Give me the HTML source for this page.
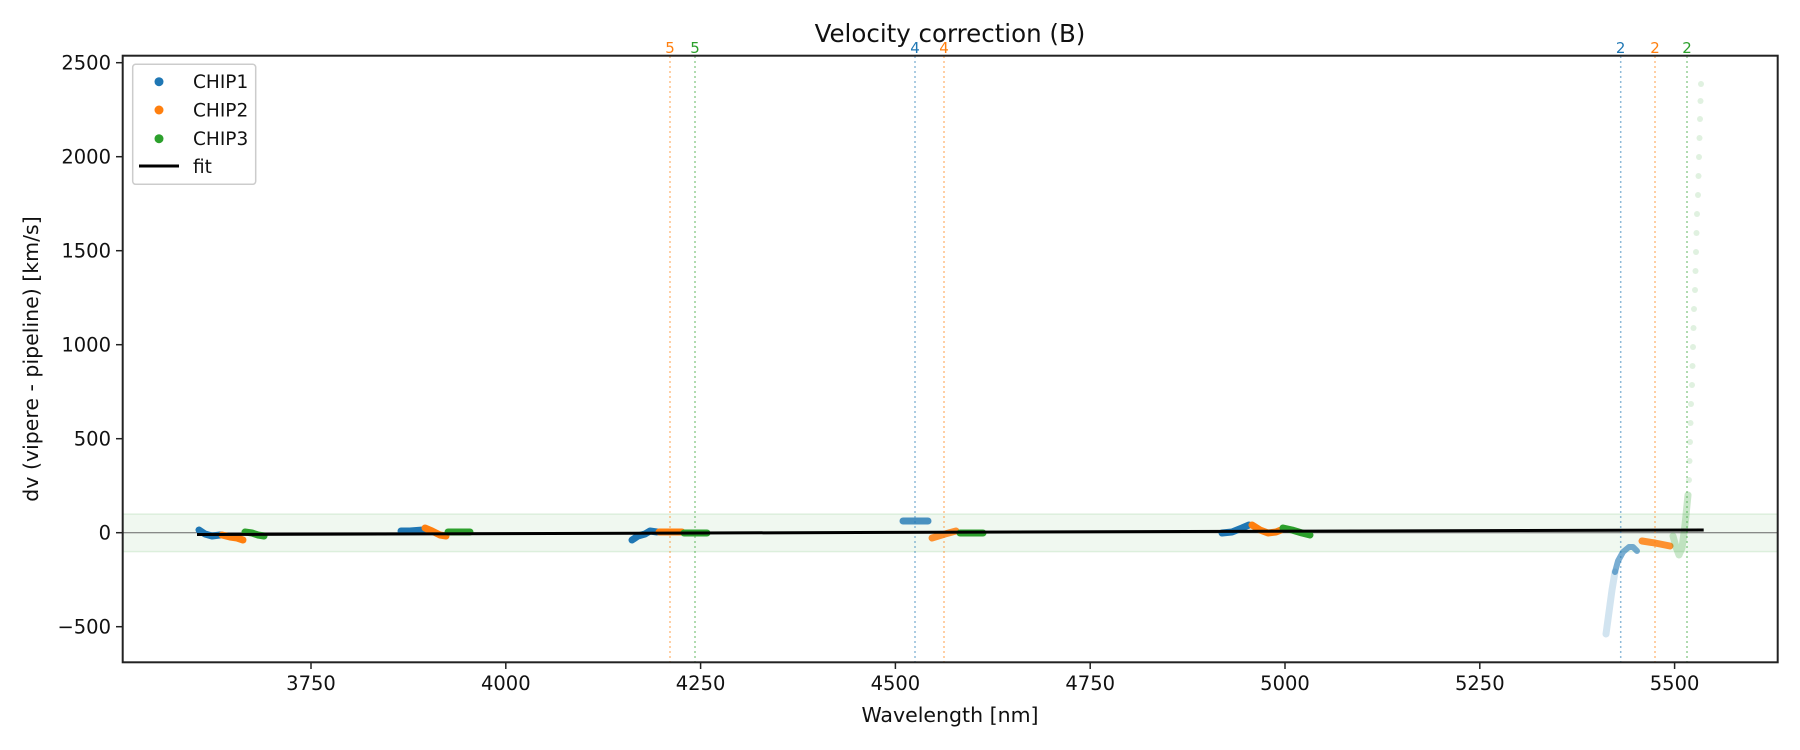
<!DOCTYPE html>
<html><head><meta charset="utf-8"><style>
html,body{margin:0;padding:0;background:#fff;}
svg{display:block;font-family:"DejaVu Sans","Liberation Sans",sans-serif;}
</style></head><body>
<svg width="1800" height="750" viewBox="0 0 1800 750" xmlns="http://www.w3.org/2000/svg">
<rect width="1800" height="750" fill="#fff"/>
<rect x="122.7" y="514" width="1655" height="37.6" fill="#2ca02c" fill-opacity="0.07"/>
<line x1="122.7" y1="514" x2="1777.7" y2="514" stroke="#2ca02c" stroke-opacity="0.12" stroke-width="1.5"/>
<line x1="122.7" y1="551.6" x2="1777.7" y2="551.6" stroke="#2ca02c" stroke-opacity="0.12" stroke-width="1.5"/>
<line x1="122.7" y1="532.7" x2="1777.7" y2="532.7" stroke="#666" stroke-width="1"/>
<g stroke-width="1.5" stroke-dasharray="2,3" stroke-opacity="0.5">
<line x1="670" y1="56" x2="670" y2="662" stroke="#ff7f0e"/>
<line x1="695" y1="56" x2="695" y2="662" stroke="#2ca02c"/>
<line x1="915" y1="56" x2="915" y2="662" stroke="#1f77b4"/>
<line x1="944" y1="56" x2="944" y2="662" stroke="#ff7f0e"/>
<line x1="1620.7" y1="56" x2="1620.7" y2="662" stroke="#1f77b4"/>
<line x1="1655" y1="56" x2="1655" y2="662" stroke="#ff7f0e"/>
<line x1="1687" y1="56" x2="1687" y2="662" stroke="#2ca02c"/>
</g>
<g font-size="15" text-anchor="middle">
<text x="670" y="53" fill="#ff7f0e">5</text>
<text x="695" y="53" fill="#2ca02c">5</text>
<text x="915" y="53" fill="#1f77b4">4</text>
<text x="944" y="53" fill="#ff7f0e">4</text>
<text x="1620.7" y="53" fill="#1f77b4">2</text>
<text x="1655" y="53" fill="#ff7f0e">2</text>
<text x="1687" y="53" fill="#2ca02c">2</text>
</g>
<g fill="none" stroke-linecap="round" stroke-linejoin="round" stroke-width="7">
<polyline stroke="#1f77b4" points="199,530 205,534 212,536 220,535"/>
<polyline stroke="#ff7f0e" points="222,535 230,537 237,538 243,540"/>
<polyline stroke="#2ca02c" points="245,532 252,533 258,535 264,536"/>
<polyline stroke="#1f77b4" points="401,531 410,531 423,530"/>
<polyline stroke="#ff7f0e" points="425,528 432,531 440,535 446,536"/>
<polyline stroke="#2ca02c" points="448,532 470,532"/>
<polyline stroke="#1f77b4" points="632,540 638,536 645,534 650,531 657,532"/>
<polyline stroke="#ff7f0e" points="659,532 682,532"/>
<polyline stroke="#2ca02c" points="684,533 707,533"/>
<polyline stroke="#1f77b4" stroke-opacity="0.8" points="903,521 928,521"/>
<polyline stroke="#ff7f0e" stroke-opacity="0.85" points="932,538 945,534 956,531"/>
<polyline stroke="#2ca02c" points="960,533 983,533"/>
<polyline stroke="#1f77b4" points="1222,533 1232,532 1242,528 1249,525"/>
<polyline stroke="#ff7f0e" points="1252,525 1260,530 1268,533 1276,532 1281,530"/>
<polyline stroke="#2ca02c" points="1283,528 1292,530 1302,533 1310,535"/>
<polyline stroke="#1f77b4" stroke-opacity="0.2" points="1606,634 1609,612 1612,590 1615,572"/>
<polyline stroke="#1f77b4" stroke-opacity="0.6" stroke-width="6" points="1615,572 1618,561 1623,552 1629,547 1633,547 1637,551"/>
<polyline stroke="#ff7f0e" stroke-opacity="0.85" points="1642,541 1655,543 1670,546"/>
<polyline stroke="#2ca02c" stroke-opacity="0.25" points="1673,536 1676,547 1679,555 1682,548 1685,525 1688,495"/>
</g>
<g fill="#2ca02c" fill-opacity="0.15">
<circle cx="1689" cy="480" r="3"/><circle cx="1689.5" cy="461" r="3"/><circle cx="1690" cy="442" r="3"/>
<circle cx="1690.5" cy="423" r="3"/><circle cx="1691" cy="404" r="3"/><circle cx="1692" cy="385" r="3"/>
<circle cx="1692.5" cy="366" r="3"/><circle cx="1693" cy="347" r="3"/><circle cx="1693.5" cy="328" r="3"/>
<circle cx="1694" cy="309" r="3"/><circle cx="1695" cy="290" r="3"/><circle cx="1695.5" cy="271" r="3"/>
<circle cx="1696" cy="252" r="3"/><circle cx="1696.5" cy="233" r="3"/><circle cx="1697" cy="214" r="3"/>
<circle cx="1698" cy="195" r="3"/><circle cx="1698.5" cy="176" r="3"/><circle cx="1699" cy="157" r="3"/>
<circle cx="1699.5" cy="138" r="3"/><circle cx="1700" cy="119" r="3"/><circle cx="1700.5" cy="101" r="3"/>
<circle cx="1701" cy="84" r="3"/>
</g>
<line x1="197" y1="534.5" x2="1703.7" y2="530" stroke="#000" stroke-width="3"/>
<rect x="122.7" y="55.7" width="1655" height="606.6" fill="none" stroke="#222" stroke-width="2"/>
<g stroke="#222" stroke-width="1.5">
<line x1="116" y1="62.7" x2="122.7" y2="62.7"/><line x1="116" y1="156.7" x2="122.7" y2="156.7"/>
<line x1="116" y1="250.7" x2="122.7" y2="250.7"/><line x1="116" y1="344.7" x2="122.7" y2="344.7"/>
<line x1="116" y1="438.7" x2="122.7" y2="438.7"/><line x1="116" y1="532.7" x2="122.7" y2="532.7"/>
<line x1="116" y1="626.7" x2="122.7" y2="626.7"/>
<line x1="311" y1="662.3" x2="311" y2="669"/><line x1="505.8" y1="662.3" x2="505.8" y2="669"/>
<line x1="700.6" y1="662.3" x2="700.6" y2="669"/><line x1="895.4" y1="662.3" x2="895.4" y2="669"/>
<line x1="1090.2" y1="662.3" x2="1090.2" y2="669"/><line x1="1285" y1="662.3" x2="1285" y2="669"/>
<line x1="1479.8" y1="662.3" x2="1479.8" y2="669"/><line x1="1674.6" y1="662.3" x2="1674.6" y2="669"/>
</g>
<g font-size="19.5" fill="#111" text-anchor="end">
<text x="111" y="69.5">2500</text><text x="111" y="163.5">2000</text><text x="111" y="257.5">1500</text>
<text x="111" y="351.5">1000</text><text x="111" y="445.5">500</text><text x="111" y="539.5">0</text>
<text x="111" y="633.5">−500</text>
</g>
<g font-size="19.5" fill="#111" text-anchor="middle">
<text x="311" y="690">3750</text><text x="505.8" y="690">4000</text><text x="700.6" y="690">4250</text>
<text x="895.4" y="690">4500</text><text x="1090.2" y="690">4750</text><text x="1285" y="690">5000</text>
<text x="1479.8" y="690">5250</text><text x="1674.6" y="690">5500</text>
<text x="950" y="722" font-size="20.5">Wavelength [nm]</text>
<text x="950" y="42" font-size="24.5">Velocity correction (B)</text>
<text transform="translate(38,359) rotate(-90)" font-size="20.5">dv (vipere - pipeline) [km/s]</text>
</g>
<rect x="132.7" y="64.3" width="123" height="120" rx="3" fill="#fff" fill-opacity="0.85" stroke="#ccc" stroke-width="1.5"/>
<circle cx="159" cy="81.7" r="4.5" fill="#1f77b4"/>
<circle cx="159" cy="110" r="4.5" fill="#ff7f0e"/>
<circle cx="159" cy="138.7" r="4.5" fill="#2ca02c"/>
<line x1="139" y1="166" x2="179" y2="166" stroke="#000" stroke-width="3"/>
<g font-size="18.5" fill="#111">
<text x="193" y="88">CHIP1</text><text x="193" y="116.5">CHIP2</text>
<text x="193" y="145">CHIP3</text><text x="193" y="173">fit</text>
</g>
</svg>
</body></html>
